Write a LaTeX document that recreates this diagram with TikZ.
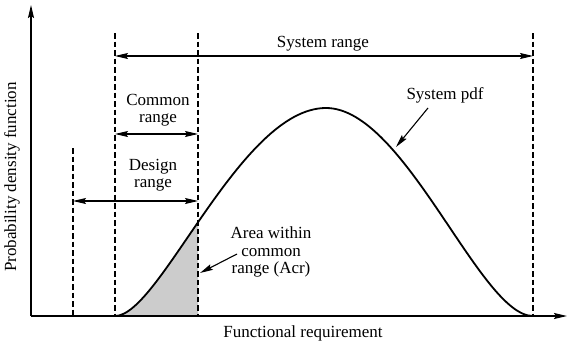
\documentclass[tikz,border=0pt]{standalone}
\usepackage{fontspec}
\setmainfont{Liberation Serif}
\usetikzlibrary{arrows.meta}
\begin{document}
\begin{tikzpicture}[x=1pt,y=-1pt,
  lbl/.style={font=\fontsize{17}{17.5}\selectfont, align=center, inner sep=0pt},
  guide/.style={dash pattern=on 5.5pt off 3pt, line width=1.1pt},
  tip/.tip={Stealth[length=13pt,width=6pt,inset=2pt]},
  dim/.style={tip-tip, line width=1.1pt},
  pointer/.style={-tip, line width=1.1pt},
  axis/.style={-tip, line width=1.5pt},
  pdfcurve/.style={line width=1.8pt}
]
\useasboundingbox (0,0) rectangle (568,343);

% shaded area
\begin{scope}
  \clip (115,0) rectangle (198,316);
  \fill[gray!40] (115,316) .. controls (160,316) and (240,108) .. (326,108) -- (326,316) -- cycle;
\end{scope}

% axes
\coordinate (O) at (31,316);
\coordinate (ytop) at (31,5);
\coordinate (xend) at (567,316);
\draw[axis] (O) -- (ytop);
\draw[axis] (O) -- (xend);

% dashed guides
\coordinate (d1t) at (73,148);  \coordinate (d1b) at (73,316);
\coordinate (d2t) at (115,33);  \coordinate (d2b) at (115,316);
\coordinate (d3t) at (198,33);  \coordinate (d3b) at (198,316);
\coordinate (d4t) at (533,33);  \coordinate (d4b) at (533,316);
\draw[guide] (d1t) -- (d1b);
\draw[guide] (d2t) -- (d2b);
\draw[guide] (d3t) -- (d3b);
\draw[guide] (d4t) -- (d4b);

% curve
\draw[pdfcurve] (d2b) .. controls (160,316) and (240,108) .. (326,108)
  .. controls (405,108) and (480,316) .. (d4b);

% range arrows
\coordinate (sysL) at (115,56);  \coordinate (sysR) at (533,56);
\coordinate (comL) at (115,134); \coordinate (comR) at (198,134);
\coordinate (desL) at (73,201);  \coordinate (desR) at (198,201);
\draw[dim] (sysL) -- (sysR);
\draw[dim] (comL) -- (comR);
\draw[dim] (desL) -- (desR);

% labels
\node[lbl] (sysrange) at (323,44) {System range};
\node[lbl] (comrange) at (158,110) {Common\\range};
\node[lbl] (desrange) at (153,175) {Design\\range};
\node[lbl] (syspdf) at (445,95) {System pdf};
\node[lbl] (acr) at (271,252) {Area within\\common\\range (Acr)};
\node[lbl] (xlab) at (303,333) {Functional requirement};
\node[lbl, rotate=90] (ylab) at (12,177) {Probability density function};

% pointers
\coordinate (pdft) at (428,108); \coordinate (pdfh) at (396,147);
\draw[pointer] (pdft) -- (pdfh);
\coordinate (acrt) at (237,254); \coordinate (acrh) at (200,273);
\draw[pointer] (acrt) -- (acrh);
\end{tikzpicture}
\end{document}
